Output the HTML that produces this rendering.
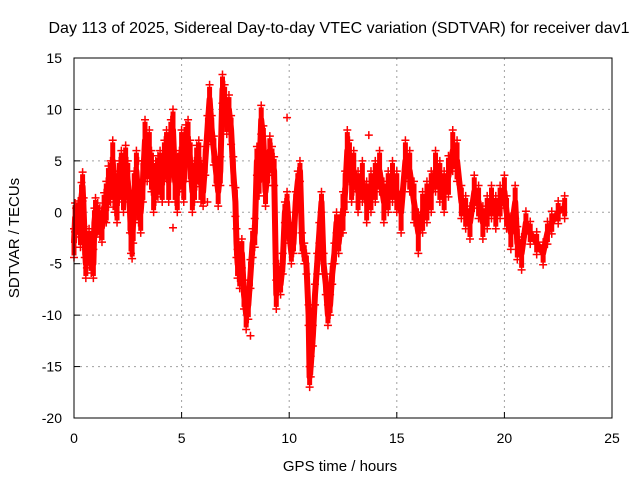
<!DOCTYPE html>
<html><head><meta charset="utf-8"><style>
body{margin:0;background:#fff}
svg{display:block;font-family:"Liberation Sans",sans-serif}
</style></head><body>
<svg id="c" width="640" height="480" viewBox="0 0 640 480">
<rect width="640" height="480" fill="#fff"/>
<text x="339" y="33" font-size="16" text-anchor="middle">Day 113 of 2025, Sidereal Day-to-day VTEC variation (SDTVAR) for receiver dav1</text>
<text x="340" y="471" font-size="15" text-anchor="middle">GPS time / hours</text>
<text transform="translate(19,238) rotate(-90)" font-size="15" text-anchor="middle">SDTVAR / TECUs</text>
<g id="grid"></g>
<g id="ticks"></g>
<g id="marks"></g>
<rect x="74" y="58" width="538" height="360" fill="none" stroke="#000" stroke-width="1"/>
</svg>
<script>
const xTicks=[0,5,10,15,20,25];
const yTicks=[-20,-15,-10,-5,0,5,10,15];
const times=[0,0.05,0.1,0.2,0.3,0.35,0.4,0.45,0.5,0.55,0.6,0.7,0.8,0.9,0.95,1.0,1.1,1.2,1.3,1.4,1.5,1.6,1.7,1.8,1.9,2.0,2.1,2.2,2.3,2.4,2.5,2.6,2.65,2.7,2.75,2.8,2.9,3.0,3.1,3.2,3.3,3.4,3.5,3.6,3.7,3.8,3.9,4.0,4.1,4.2,4.3,4.4,4.5,4.6,4.7,4.8,4.9,5.0,5.1,5.2,5.3,5.4,5.5,5.6,5.7,5.8,5.9,6.0,6.1,6.2,6.3,6.4,6.5,6.6,6.7,6.8,6.9,7.0,7.1,7.2,7.3,7.4,7.5,7.55,7.6,7.7,7.8,7.9,8.0,8.1,8.2,8.3,8.4,8.5,8.6,8.7,8.8,8.9,9.0,9.1,9.2,9.3,9.4,9.5,9.6,9.7,9.8,9.9,10.0,10.1,10.2,10.3,10.4,10.5,10.6,10.7,10.8,10.9,10.95,11.0,11.1,11.2,11.3,11.4,11.5,11.6,11.7,11.8,11.9,12.0,12.1,12.2,12.3,12.4,12.5,12.6,12.7,12.8,12.9,13.0,13.2,13.4,13.6,13.8,14.0,14.2,14.4,14.6,14.8,15.0,15.2,15.4,15.6,15.8,16.0,16.2,16.4,16.6,16.8,17.0,17.2,17.4,17.6,17.8,18.0,18.2,18.4,18.6,18.8,19.0,19.2,19.4,19.6,19.8,20.0,20.1,20.3,20.5,20.6,20.8,21.0,21.2,21.5,21.8,22.0,22.2,22.5,22.8];
const values=[-3,-0.5,-1,-0.3,-2,1.5,2.5,0,-3,-5,-4,-3,-4.5,-5,-1,0,-0.5,-1,-1.5,0.5,1,2.5,3,5,2,1,3,4,2,4.5,3,0,-2,-2.5,-1,2,4,1,0,3,7,5,6,4,2,3,3.5,4,3,5,6,3,7,8,3,2,4,6,3,6.5,7,5,2,3,4.5,5,3,2,5,8,11,8,6,4,2,4,12,11,9,10,8,4,1,-3,-5,-6,-4,-8,-10,-9,-6,-3,-2,5,3,9,7,2,4,6,5,4,-8,-6,-7,-5,0,1,-2,-4,-3,1,3,4,-3,-4,-5,-10,-16,-15,-12,-8,-5,-2,1,-5,-7,-10,-9,-6,-4,-1,-3,-1,0,2,6,5,3,4,2,3,1,2,3,4,1,2,3,2,0,5,4,1,-2,0,1,2,4,3,2,3.5,6,5,1,0,-1,2,1,-1,0,1,0,1,2,0,-2,1,-3,-4,-1,-2,-3,-4,-2,-1,0,0.5];
// per time-range half-width of the point cloud: [start, end, halfwidth]
const spreadRanges=[[0,1.5,1.2],[1.5,3.5,1.8],[3.5,6,1.8],[6,7.5,1.2],[7.5,9.5,1.2],[9.5,12.5,0.8],[12.5,18,1.8],[18,21,1.4],[21,23,0.9]];
const outTimes=[9.9,13.7,8.2,4.6,22.7,3.0,6.2];
const outValues=[9.2,7.5,-12,-1.5,0.5,5,1];
const X=t=>74+t*538/25, Y=v=>58+(15-v)*360/35;
const NS='http://www.w3.org/2000/svg';
const g=document.getElementById('grid'),tk=document.getElementById('ticks'),m=document.getElementById('marks');
function mk(tag,a,p){const e=document.createElementNS(NS,tag);for(const k in a)e.setAttribute(k,a[k]);p.appendChild(e);return e;}
function sp(t){for(const r of spreadRanges){if(t>=r[0]&&t<r[1])return r[2];}return 1;}
xTicks.forEach(t=>{
  if(t>0&&t<25){const l=mk('line',{x1:X(t),x2:X(t),y1:58,y2:418,stroke:'#a0a0a0','stroke-dasharray':'2,4'},g);
  
  }
  mk('line',{x1:X(t),x2:X(t),y1:418,y2:412,stroke:'#000'},tk);
  const s=mk('text',{x:X(t),y:443,'font-size':14,'text-anchor':'middle'},tk);s.textContent=t;
  
  
});
yTicks.forEach(v=>{
  if(v>-20&&v<15){const l=mk('line',{x1:74,x2:612,y1:Y(v),y2:Y(v),stroke:'#a0a0a0','stroke-dasharray':'2,4'},g);
  
  }
  mk('line',{x1:74,x2:80,y1:Y(v),y2:Y(v),stroke:'#000'},tk);
  const s=mk('text',{x:62,y:Y(v)+5,'font-size':14,'text-anchor':'end'},tk);s.textContent=v;
  
  
});
times.forEach((t,i)=>{
  const h=sp(t);
  const b=mk('line',{x1:X(t),x2:X(t),y1:Y(values[i]+h),y2:Y(values[i]-h),stroke:'#f00','stroke-width':5},m);
  
  
});
let d='';
times.forEach((t,i)=>{d+=(i===0?'M':'L')+X(t).toFixed(1)+','+Y(values[i]).toFixed(1);});
const pl=mk('path',{d:d,fill:'none',stroke:'#f00','stroke-width':6,'stroke-linejoin':'round'},m);


function plus(t,v){const x=X(t),y=Y(v);
  const p=mk('path',{d:`M${x-4},${y}h8M${x},${y-4}v8`,stroke:'#f00','stroke-width':1.5},m);
  
  }
times.forEach((t,i)=>{const h=sp(t);plus(t,values[i]+h+0.2);plus(t,values[i]-h-0.2);});
outTimes.forEach((t,i)=>plus(t,outValues[i]));
</script>
</body></html>
